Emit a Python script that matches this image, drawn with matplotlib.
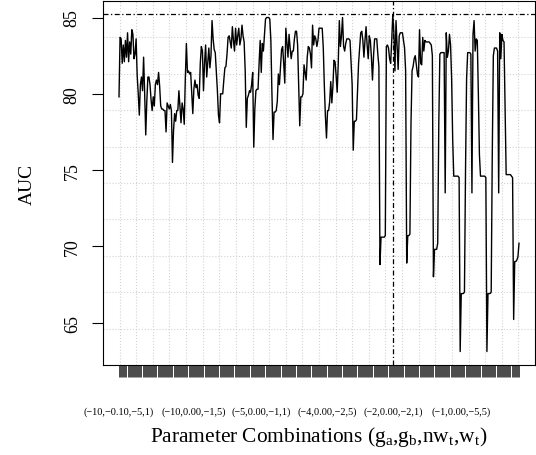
import numpy as np
import matplotlib.pyplot as plt

# Fuente tipo Times como en la figura original
plt.rcParams['font.family'] = 'Liberation Serif'
plt.rcParams['mathtext.fontset'] = 'custom'
plt.rcParams['mathtext.rm'] = 'Liberation Serif'

# AUC de cada combinacion de parametros, 75 por parte
auc_parte1 = [79.8, 83.7, 83.6, 82.0, 83.2, 82.1, 83.5, 82.4, 84.0, 82.1, 83.4, 82.6, 84.2,
              83.9, 82.3, 82.6, 83.6, 81.2, 80.0, 78.6, 80.6, 81.1, 80.2, 82.4, 80.0,
              77.3, 79.5, 81.1, 81.1, 80.6, 79.6, 78.9, 79.8, 79.2, 80.6, 80.9, 80.6, 81.4,
              80.5, 79.2, 79.0, 79.0, 78.9, 78.9, 77.5, 79.4, 79.2, 79.0, 79.3, 78.9,
              75.5, 77.6, 78.7, 78.2, 78.9, 78.9, 80.2, 79.2, 78.1, 79.4, 79.0, 78.0, 81.0,
              83.3, 81.4, 81.5, 81.3, 81.4, 80.0, 78.7, 80.3, 80.9, 80.4, 80.6, 79.9]
auc_parte2 = [79.7, 82.0, 83.1, 82.8, 80.2, 82.0, 83.2, 81.1, 82.1, 83.0, 81.7, 82.5, 84.8,
              83.6, 82.9, 82.7, 81.5, 80.2, 78.6, 78.1, 80.0, 80.0, 80.0, 80.9, 81.7,
              81.8, 82.6, 83.7, 83.8, 83.4, 83.0, 84.4, 83.5, 82.8, 84.3, 83.2, 83.8, 84.3,
              83.2, 83.6, 84.5, 83.8, 83.4, 81.5, 77.8, 79.7, 79.9, 80.2, 80.1, 80.6,
              81.4, 76.5, 79.0, 80.2, 80.3, 80.3, 82.0, 83.5, 81.4, 83.3, 82.8, 83.9, 84.9,
              85.0, 85.0, 85.0, 84.9, 83.5, 80.0, 77.0, 78.8, 78.8, 78.9, 79.5, 81.3]
auc_parte3 = [80.6, 81.8, 82.9, 83.1, 82.0, 80.7, 84.3, 83.3, 82.4, 83.9, 83.0, 82.3, 82.8,
              82.8, 83.6, 84.1, 84.1, 83.2, 80.5, 77.9, 79.8, 79.8, 80.0, 81.9, 81.4,
              80.9, 82.4, 83.1, 83.0, 82.6, 81.7, 84.5, 83.2, 83.8, 83.6, 83.1, 83.5, 84.3,
              84.3, 84.3, 84.3, 83.0, 80.5, 78.5, 77.1, 78.9, 78.9, 79.5, 80.8, 79.4,
              80.5, 82.2, 82.1, 81.2, 80.1, 82.0, 84.8, 83.1, 83.8, 85.0, 83.1, 82.8, 83.3,
              83.6, 83.6, 83.6, 83.5, 82.0, 80.6, 76.3, 78.2, 78.2, 78.3, 80.2, 82.0]
auc_parte4 = [83.0, 84.0, 84.1, 83.5, 82.4, 83.5, 84.4, 83.2, 82.3, 83.8, 83.5, 82.4, 80.9,
              82.5, 83.6, 83.6, 83.6, 82.6, 81.8, 68.8, 70.6, 70.6, 70.6, 70.6, 70.7,
              83.1, 83.2, 83.0, 82.3, 82.0, 83.5, 85.2, 84.0, 81.5, 84.8, 83.2, 81.6, 83.8,
              84.0, 84.0, 84.0, 83.5, 83.0, 81.5, 68.9, 70.7, 70.7, 70.8, 78.0, 81.5,
              81.8, 82.3, 82.5, 81.9, 81.3, 81.1, 84.2, 82.0, 81.9, 83.7, 82.8, 83.5, 83.4,
              83.4, 83.4, 83.4, 83.3, 83.2, 82.5, 68.0, 69.8, 69.8, 69.8, 70.2, 78.0]
auc_parte5 = [82.6, 82.7, 82.7, 82.7, 82.7, 73.5, 84.0, 82.4, 82.8, 83.9, 83.2, 81.0, 77.0,
              74.6, 74.6, 74.6, 74.6, 74.6, 74.5, 63.1, 66.9, 66.9, 66.9, 67.0, 75.0,
              81.0, 82.7, 82.7, 82.7, 82.6, 73.5, 83.9, 84.8, 82.8, 83.6, 83.5, 80.0, 76.0,
              74.6, 74.6, 74.6, 74.6, 74.6, 74.5, 63.1, 66.9, 66.9, 66.9, 67.0, 76.0,
              82.5, 83.0, 83.0, 83.0, 82.8, 73.5, 84.0, 82.3, 83.9, 83.5, 83.4, 79.0, 74.7,
              74.7, 74.7, 74.7, 74.7, 74.6, 74.5, 65.2, 69.0, 69.0, 69.1, 69.3, 70.2]

# Etiquetas que se alcanzan a ver en el eje x (posicion 1-based)
pos_etiquetas = [1, 71, 134, 196, 257, 321]
txt_etiquetas = ['(\u221210,\u22120.10,\u22125,1)', '(\u221210,0.00,\u22121,5)',
                 '(\u22125,0.00,\u22121,1)', '(\u22124,0.00,\u22122,5)',
                 '(\u22122,0.00,\u22122,1)', '(\u22121,0.00,\u22125,5)']

auc = np.array(auc_parte1 + auc_parte2 + auc_parte3 + auc_parte4 + auc_parte5)
n = len(auc)
x = np.arange(1, n + 1)

#Mejor combinacion
mejor = np.argmax(auc)

fig = plt.figure(figsize=(5.36, 4.56), dpi=100)
ax = fig.add_axes([103/536, 1 - 366/456, 432/536, 364/456])

# limites estilo R (4% extra)
xr = n - 1
yr = auc.max() - auc.min()
x0, x1 = 1 - 0.04*xr, n + 0.04*xr
y0, y1 = auc.min() - 0.04*yr, auc.max() + 0.04*yr
ax.set_xlim(x0, x1)
ax.set_ylim(y0, y1)

# grid(nx=26, ny=10)
for k in range(1, 26):
    ax.axvline(x0 + (x1 - x0)*k/26, color='lightgray', lw=0.8, ls=':', zorder=0)
for k in range(1, 10):
    ax.axhline(y0 + (y1 - y0)*k/10, color='lightgray', lw=0.8, ls=':', zorder=0)

ax.plot(x, auc, color='black', lw=1.0)
ax.axhline(auc[mejor], color='black', lw=0.9, ls=(0, (4, 2, 1, 2)))
ax.axvline(x[mejor], color='black', lw=0.9, ls=(0, (4, 2, 1, 2)))

etiquetas = [''] * n
for p, t in zip(pos_etiquetas, txt_etiquetas):
    etiquetas[p - 1] = t
ax.set_xticks(x)
ax.set_xticklabels(etiquetas)
ax.tick_params(axis='x', length=8.5, width=0.5, color='black', pad=21, labelsize=7.4)

ax.set_yticks([65, 70, 75, 80, 85])
ax.tick_params(axis='y', length=8, width=0.8, pad=8, labelsize=13, labelrotation=90)
for lbl in ax.get_yticklabels():
    lbl.set_va('center')

for s in ax.spines.values():
    s.set_linewidth(0.8)

ax.set_ylabel('AUC', fontsize=14, labelpad=20)
ax.set_xlabel(r'Parameter Combinations (g$_\mathregular{a}$,g$_\mathregular{b}$,'
              r'nw$_\mathregular{t}$,w$_\mathregular{t}$)', fontsize=15.4, labelpad=6)

plt.savefig('out.png', dpi=100)
